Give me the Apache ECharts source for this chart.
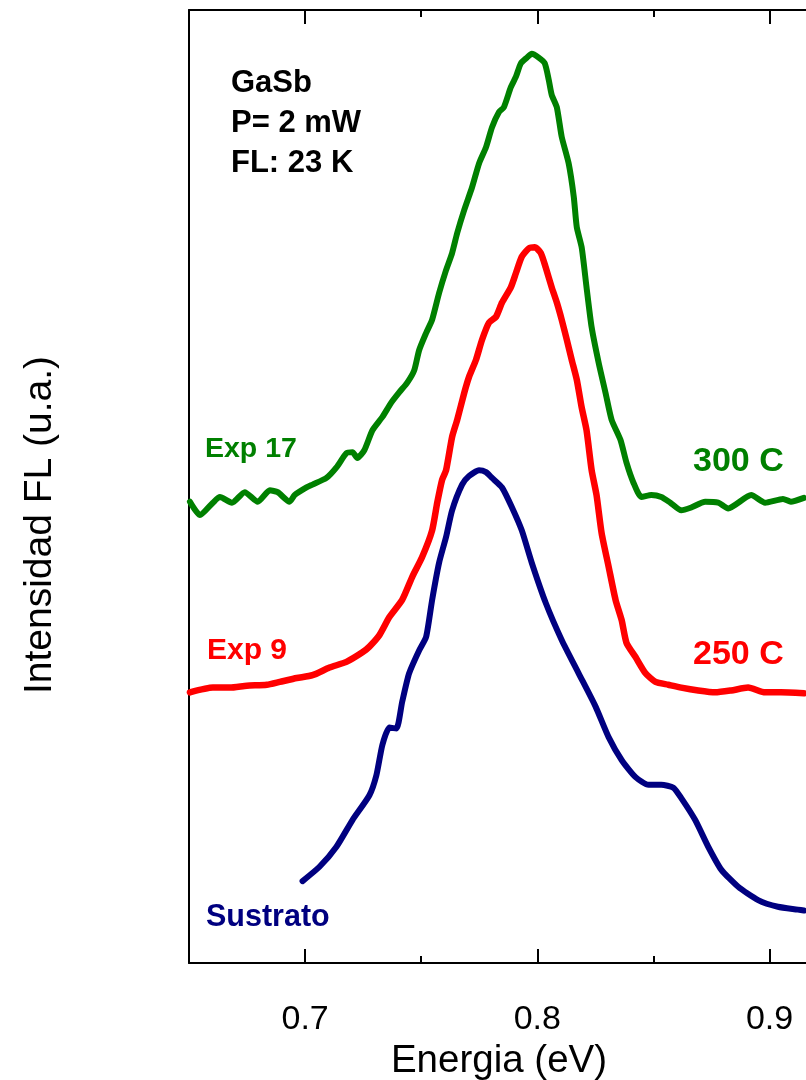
<!DOCTYPE html>
<html>
<head>
<meta charset="utf-8">
<title>GaSb FL</title>
<script src="https://cdn.jsdelivr.net/npm/echarts@6/dist/echarts.min.js"></script>
<style>
  html, body { margin: 0; padding: 0; background: #fff; }
  #chart { width: 806px; height: 1080px; }
</style>
</head>
<body>
<div id="chart"></div>
<script>
// Exp 17 (300 C) - energia (eV) / intensidad (u.a.)
const exp17Energy = [0.6504,0.6547,0.6603,0.6633,0.6685,0.6740,0.6796,0.6848,0.6882,0.6933,0.6955,0.7006,0.7032,0.7092,0.7135,0.7178,0.7204,0.7225,0.7255,0.7290,0.7333,0.7371,0.7406,0.7440,0.7470,0.7491,0.7521,0.7547,0.7577,0.7607,0.7633,0.7655,0.7685,0.7719,0.7749,0.7779,0.7805,0.7835,0.7856,0.7886,0.7908,0.7929,0.7955,0.7976,0.8006,0.8032,0.8049,0.8062,0.8084,0.8105,0.8135,0.8157,0.8170,0.8191,0.8212,0.8234,0.8264,0.8294,0.8320,0.8358,0.8384,0.8414,0.8448,0.8491,0.8534,0.8573,0.8620,0.8663,0.8723,0.8779,0.8822,0.8921,0.8981,0.9058,0.9092,0.9148];
const exp17Int = [48.4,47.0,48.3,48.9,48.3,49.4,48.4,49.6,49.4,48.4,49.1,49.9,50.2,50.9,52.0,53.5,53.6,53.0,53.8,55.9,57.3,58.8,59.9,60.9,62.2,64.3,66.1,67.5,70.3,72.7,74.5,76.6,79.0,81.4,83.9,85.6,87.7,89.3,89.8,91.9,93.0,94.4,95.0,95.4,95.0,94.4,92.7,91.1,89.8,86.7,83.9,80.4,77.2,75.1,70.9,66.7,63.0,59.8,57.0,54.9,52.5,50.4,48.9,49.1,48.9,48.3,47.5,47.8,48.4,48.3,47.7,49.1,48.3,48.7,48.4,48.8];

// Exp 9 (250 C)
const exp9Energy = [0.6504,0.6603,0.6676,0.6749,0.6835,0.6891,0.6964,0.7032,0.7105,0.7178,0.7247,0.7277,0.7320,0.7363,0.7418,0.7461,0.7504,0.7547,0.7569,0.7590,0.7607,0.7633,0.7655,0.7685,0.7706,0.7736,0.7762,0.7792,0.7822,0.7848,0.7886,0.7908,0.7933,0.7964,0.7989,0.8015,0.8036,0.8062,0.8084,0.8105,0.8127,0.8148,0.8170,0.8191,0.8212,0.8234,0.8255,0.8277,0.8307,0.8337,0.8363,0.8384,0.8423,0.8466,0.8509,0.8564,0.8620,0.8693,0.8766,0.8835,0.8908,0.8981,0.9049,0.9148];
const exp9Int = [28.4,28.9,28.9,29.1,29.2,29.5,29.9,30.2,31.0,31.6,32.6,33.2,34.4,36.3,38.1,40.5,42.6,45.4,48.3,50.7,51.7,55.2,57.0,59.8,61.5,63.3,65.4,67.2,67.8,69.3,70.9,72.4,74.1,75.0,75.1,74.5,73.0,70.9,69.3,67.5,65.4,63.3,61.2,58.3,55.9,51.7,49.1,45.1,41.6,38.1,36.0,33.6,32.1,30.4,29.5,29.2,28.9,28.6,28.4,28.6,28.9,28.4,28.4,28.3];

// Sustrato
const subEnergy = [0.6989,0.7062,0.7135,0.7204,0.7277,0.7307,0.7333,0.7363,0.7393,0.7418,0.7448,0.7491,0.7521,0.7547,0.7577,0.7607,0.7633,0.7676,0.7706,0.7749,0.7779,0.7805,0.7848,0.7891,0.7933,0.7976,0.8036,0.8105,0.8178,0.8251,0.8307,0.8363,0.8423,0.8479,0.8534,0.8586,0.8620,0.8680,0.8736,0.8792,0.8865,0.8951,0.9036,0.9122,0.9148];
const subInt = [8.6,10.1,12.2,15.0,17.6,19.7,22.9,24.7,24.6,27.4,30.4,32.8,34.2,38.1,42.0,44.7,47.5,50.2,51.1,51.7,51.5,50.9,49.9,47.8,45.4,42.0,37.8,33.9,30.4,26.9,23.7,21.3,19.5,18.7,18.7,18.4,17.3,15.0,12.2,9.8,8.0,6.6,5.9,5.6,5.5];

const majorTicks = [0.7, 0.8, 0.9];
const minorTicks = [0.75, 0.85];

const FONT = '"Liberation Sans", Arial, sans-serif';
const GREEN = '#008000', RED = '#ff0000', NAVY = '#000080';

const pairs = (xs, ys) => xs.map((x, i) => [x, ys[i]]);

const baseX = (pos, ticks, len, showLine, showLabel) => ({
    type: 'value', position: pos, min: 0.65, max: 0.917,
    splitLine: { show: false },
    axisLine: { show: showLine, onZero: false, lineStyle: { color: '#000', width: 2 } },
    axisTick: { show: true, inside: true, length: len, customValues: ticks, lineStyle: { color: '#000', width: 2 } },
    axisLabel: showLabel
        ? { show: true, customValues: ticks, margin: 40, fontSize: 34, color: '#000', fontFamily: FONT }
        : { show: false }
});

const txt = (text, x, y, size, color) => ({
    type: 'text', left: x, top: y,
    style: { text: text, fill: color, font: 'bold ' + size + 'px ' + FONT, verticalAlign: 'middle' }
});

const chart = echarts.init(document.getElementById('chart'), null, { renderer: 'canvas' });

const xBottom = baseX('bottom', majorTicks, 14, true, true);
xBottom.name = 'Energia (eV)';
xBottom.nameLocation = 'middle';
xBottom.nameGap = 74;
xBottom.nameTextStyle = { fontSize: 38.5, color: '#000', fontFamily: FONT };

chart.setOption({
    backgroundColor: '#fff',
    animation: false,
    // keep the plot box fixed, labels may sit outside it
    grid: { left: 189, top: 10, right: -3, bottom: 117, containLabel: false, outerBoundsMode: 'none' },
    xAxis: [
        xBottom,
        baseX('bottom', minorTicks, 7, false, false),
        baseX('top', majorTicks, 14, true, false),
        baseX('top', minorTicks, 7, false, false)
    ],
    yAxis: {
        type: 'value', min: 0, max: 100,
        axisLine: { show: true, lineStyle: { color: '#000', width: 2 } },
        axisTick: { show: false }, axisLabel: { show: false }, splitLine: { show: false }
    },
    series: [
        { name: 'Exp 17', type: 'line', data: pairs(exp17Energy, exp17Int), showSymbol: false, smooth: 0.2,
          lineStyle: { color: GREEN, width: 6, cap: 'round', join: 'round' } },
        { name: 'Exp 9', type: 'line', data: pairs(exp9Energy, exp9Int), showSymbol: false, smooth: 0.2,
          lineStyle: { color: RED, width: 6.5, cap: 'round', join: 'round' } },
        { name: 'Sustrato', type: 'line', data: pairs(subEnergy, subInt), showSymbol: false, smooth: 0.2,
          lineStyle: { color: NAVY, width: 6, cap: 'round', join: 'round' } }
    ],
    graphic: [
        // y axis title, sits a bit below the plot's middle like the original
        { type: 'text', x: 40, y: 525, rotation: Math.PI / 2,
          style: { text: 'Intensidad FL (u.a.)', fill: '#000', font: '39px ' + FONT, align: 'center', verticalAlign: 'middle' } },
        txt('GaSb', 231, 68, 31, '#000'),
        txt('P= 2 mW', 231, 108, 31, '#000'),
        txt('FL: 23 K', 231, 148, 31, '#000'),
        txt('Exp 17', 205, 435, 28.5, GREEN),
        txt('300 C', 693, 445, 34, GREEN),
        txt('Exp 9', 207, 636, 30, RED),
        txt('250 C', 693, 638, 34, RED),
        txt('Sustrato', 206, 902, 30.5, NAVY)
    ]
});
</script>
</body>
</html>
